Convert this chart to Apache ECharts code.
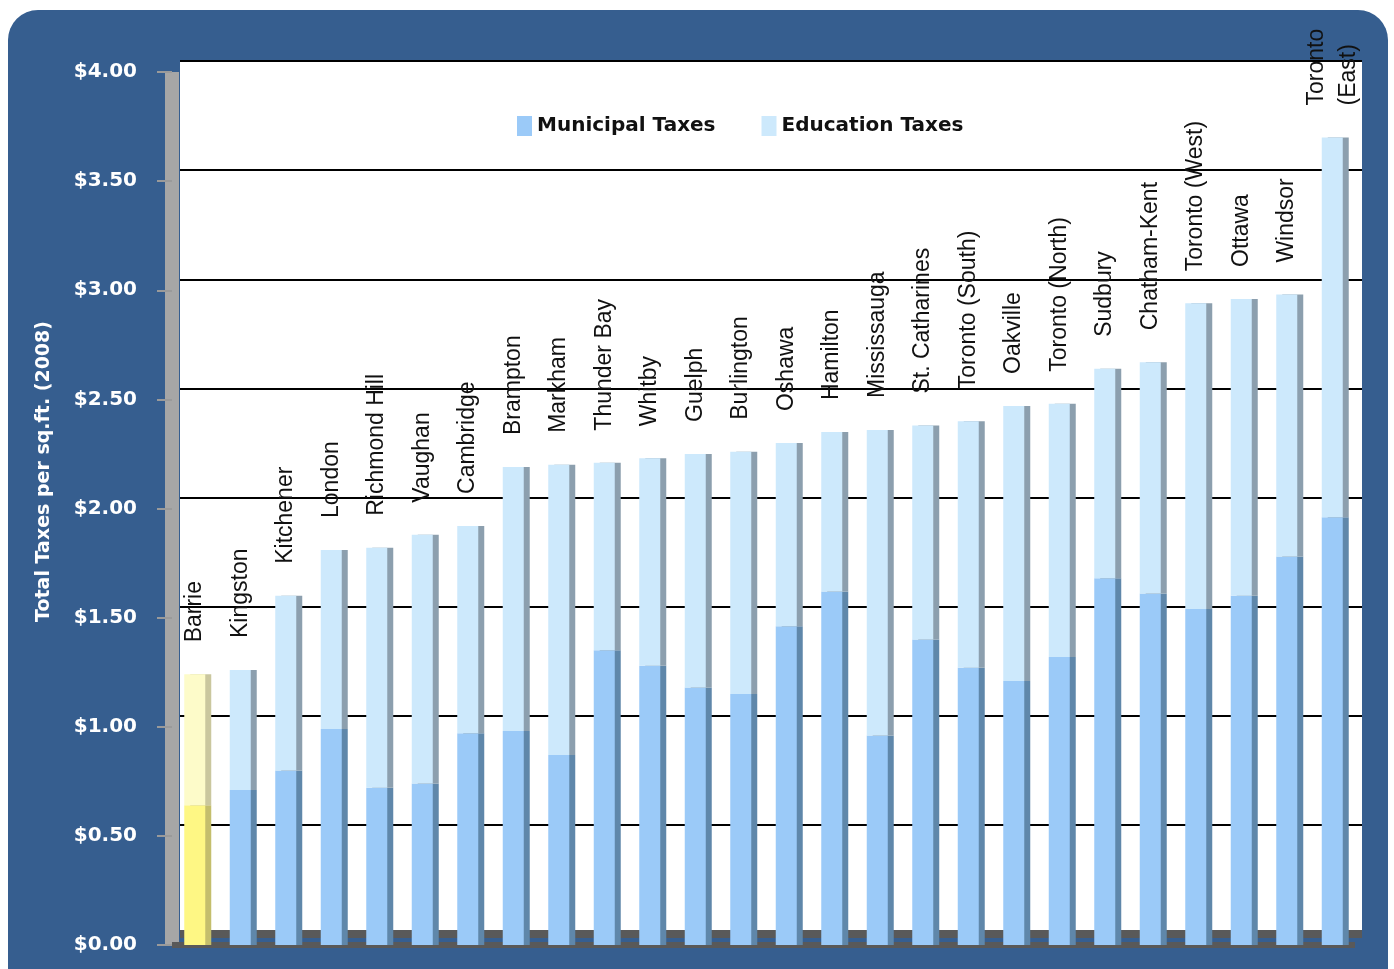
<!DOCTYPE html>
<html>
<head>
<meta charset="utf-8">
<title>Total Taxes per sq.ft. (2008)</title>
<script src="https://cdn.jsdelivr.net/npm/echarts@6/dist/echarts.min.js"></script>
<style>
	html, body { margin: 0; padding: 0; background: #fff; }
	#frame {
		position: absolute; left: 8px; top: 10px;
		width: 1380px; height: 990px;
		border-radius: 30px; background: #365e8f;
	}
	#chart { position: absolute; left: 0; top: 0; width: 1394px; height: 969px; }
</style>
</head>
<body>
<div id="frame"></div>
<div id="chart"></div>
<script>
// values, $ per sq.ft.
const categories = [
	"Barrie", "Kingston", "Kitchener", "London", "Richmond Hill", "Vaughan",
	"Cambridge", "Brampton", "Markham", "Thunder Bay", "Whitby", "Guelph",
	"Burlington", "Oshawa", "Hamilton", "Mississauga", "St. Catharines",
	"Toronto (South)", "Oakville", "Toronto (North)", "Sudbury", "Chatham-Kent",
	"Toronto (West)", "Ottawa", "Windsor", "Toronto (East)"
]
const municipalTaxes = [
	0.64, 0.71, 0.80, 0.99, 0.72, 0.74, 0.97, 0.98, 0.87, 1.35, 1.28, 1.18, 1.15,
	1.46, 1.62, 0.96, 1.40, 1.27, 1.21, 1.32, 1.68, 1.61, 1.54, 1.60, 1.78, 1.96
]
const educationTaxes = [
	0.60, 0.55, 0.80, 0.82, 1.10, 1.14, 0.95, 1.21, 1.33, 0.86, 0.95, 1.07, 1.11,
	0.84, 0.73, 1.40, 0.98, 1.13, 1.26, 1.16, 0.96, 1.06, 1.40, 1.36, 1.20, 1.74
]
const yTicks = [0, 0.5, 1, 1.5, 2, 2.5, 3, 3.5, 4]
const highlighted = "Barrie"

const muniStyle = { color: "#9bcaf8", shadowColor: "#5f87aa" }
const eduStyle = { color: "#cde9fc", shadowColor: "#8c9fae" }
const muniHighlight = { color: "#fef784", shadowColor: "#c4be6c" }
const eduHighlight = { color: "#fdfbc9", shadowColor: "#cac79e" }

function bars(values, hiStyle) {
	return values.map((v, i) => categories[i] === highlighted
		? { value: v, itemStyle: hiStyle }
		: v)
}

const chart = echarts.init(document.getElementById("chart"))

chart.setOption({
	backgroundColor: "transparent",
	animation: false,
	legend: {
		left: 512,
		top: 111,
		itemWidth: 15,
		itemHeight: 20,
		itemGap: 46,
		icon: "rect",
		textStyle: { fontFamily: "DejaVu Sans", fontWeight: "bold", fontSize: 20, color: "#111" },
		data: ["Municipal Taxes", "Education Taxes"]
	},
	grid: [
		// bars, value labels and the side wall
		{ left: 172, right: 39, top: 72, bottom: 24 },
		// back wall with the grid lines, drawn a bit higher for depth
		{ left: 180, right: 32, top: 61, bottom: 35, show: true, backgroundColor: "#fff", borderWidth: 0 }
	],
	xAxis: [
		{
			type: "category",
			gridIndex: 0,
			data: categories,
			axisLine: { lineStyle: { color: "#595959", width: 6, cap: "butt" } },
			axisTick: { show: false },
			axisLabel: { show: false }
		},
		{
			type: "category",
			gridIndex: 1,
			data: categories,
			offset: 6,
			axisLine: { lineStyle: { color: "#595959", width: 8, cap: "butt" } },
			axisTick: { show: false },
			axisLabel: { show: false }
		}
	],
	yAxis: [
		{
			type: "value",
			gridIndex: 0,
			min: yTicks[0],
			max: yTicks[yTicks.length - 1],
			interval: 0.5,
			name: "Total Taxes per sq.ft. (2008)",
			nameLocation: "middle",
			nameGap: 118,
			nameTextStyle: {
				color: "#fff", fontFamily: "DejaVu Sans", fontWeight: "bold", fontSize: 19,
				padding: [0, 0, 0, 74]
			},
			axisLine: { show: true, lineStyle: { color: "#a6a6a6", width: 14, cap: "butt" } },
			axisTick: { show: true, length: 15, lineStyle: { color: "#9a9a9a", width: 2 } },
			axisLabel: {
				margin: 35,
				color: "#fff",
				fontFamily: "DejaVu Sans",
				fontWeight: "bold",
				fontSize: 20,
				formatter: v => "$" + v.toFixed(2)
			},
			splitLine: { show: false }
		},
		{
			type: "value",
			gridIndex: 1,
			min: yTicks[0],
			max: yTicks[yTicks.length - 1],
			interval: 0.5,
			axisLine: { show: false },
			axisTick: { show: false },
			axisLabel: { show: false },
			splitLine: { lineStyle: { color: "#000", width: 2 } }
		}
	],
	series: [
		{
			name: "Municipal Taxes",
			type: "bar",
			stack: "taxes",
			barWidth: 21,
			itemStyle: { ...muniStyle, shadowBlur: 0, shadowOffsetX: 6, shadowOffsetY: 0 },
			data: bars(municipalTaxes, muniHighlight)
		},
		{
			name: "Education Taxes",
			type: "bar",
			stack: "taxes",
			barWidth: 21,
			itemStyle: { ...eduStyle, shadowBlur: 0, shadowOffsetX: 6, shadowOffsetY: 0 },
			label: {
				show: true,
				position: "top",
				distance: 32,
				rotate: 90,
				align: "left",
				verticalAlign: "middle",
				color: "#111",
				fontFamily: "Liberation Sans",
				fontSize: 23,
				lineHeight: 32,
				formatter: p => p.name.replace(" (East)", "\n(East)")
			},
			data: bars(educationTaxes, eduHighlight)
		}
	]
})
</script>
</body>
</html>
